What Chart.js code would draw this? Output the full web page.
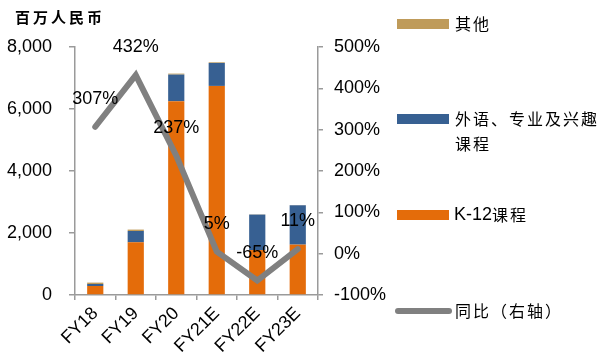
<!DOCTYPE html>
<html>
<head>
<meta charset="utf-8">
<script src="https://cdn.jsdelivr.net/npm/chart.js@4"></script>
<style>
  html, body { margin: 0; padding: 0; background: #fff; }
  #wrap { position: relative; width: 615px; height: 356px; }
</style>
</head>
<body>
<div id="wrap"><canvas id="revChart" width="615" height="356"></canvas></div>
<script>
const years = ['FY18', 'FY19', 'FY20', 'FY21E', 'FY22E', 'FY23E'];
const k12 = [290, 1700, 6250, 6745, 1450, 1625];
const interest = [65, 365, 860, 740, 1144, 1269];
const other = [45, 45, 32, 22, 8, 8];
const growth = [307, 432, 237, 5, -65, 11];
const leftTicks = [0, 2000, 4000, 6000, 8000];
const rightTicks = [-100, 0, 100, 200, 300, 400, 500];

const axisGray = '#9a9a9a';
const numFont = '"Liberation Sans", Arial, sans-serif';
const cjkFont = '"Noto Sans CJK SC", sans-serif';

// labels above line points + title + legend
const extras = {
    id: 'extras',
    afterDraw(chart) {
        const ctx = chart.ctx;
        ctx.save();
        // growth labels
        const meta = chart.getDatasetMeta(3);
        ctx.font = '18px ' + numFont;
        ctx.fillStyle = '#000';
        ctx.textAlign = 'center';
        ctx.textBaseline = 'middle';
        meta.data.forEach((pt, i) => {
            ctx.fillText(growth[i] + '%', pt.x, pt.y - 28);
        });

        // unit title
        ctx.textAlign = 'left';
        ctx.font = 'bold 15px ' + cjkFont;
        ctx.letterSpacing = '3px';
        ctx.fillText('百万人民币', 15, 17);

        // legend
        ctx.font = '16px ' + cjkFont;
        ctx.letterSpacing = '2px';
        const bx = 397, tx = 455;
        ctx.fillStyle = '#BF9B5A';
        ctx.fillRect(bx, 19, 52, 10);
        ctx.fillStyle = '#000';
        ctx.fillText('其他', tx, 24);

        ctx.fillStyle = '#376092';
        ctx.fillRect(bx, 114, 52, 10);
        ctx.fillStyle = '#000';
        ctx.fillText('外语、专业及兴趣', tx, 119);
        ctx.fillText('课程', tx, 144);

        ctx.fillStyle = '#E46C0A';
        ctx.fillRect(bx, 210, 52, 10);
        ctx.fillStyle = '#000';
        ctx.letterSpacing = '0px';
        ctx.font = '18px ' + numFont;
        ctx.fillText('K-12', tx - 1, 215);
        const kw = ctx.measureText('K-12').width;
        ctx.font = '16px ' + cjkFont;
        ctx.letterSpacing = '2px';
        ctx.fillText('课程', tx - 1 + kw, 215);

        ctx.strokeStyle = '#808080';
        ctx.lineWidth = 6;
        ctx.lineCap = 'round';
        ctx.beginPath();
        ctx.moveTo(398, 311);
        ctx.lineTo(449, 311);
        ctx.stroke();
        ctx.fillText('同比（右轴）', tx, 311);
        ctx.restore();
    }
};

new Chart(document.getElementById('revChart').getContext('2d'), {
    type: 'bar',
    data: {
        labels: years,
        datasets: [{
            label: 'K-12课程',
            data: k12,
            backgroundColor: '#E46C0A',
            order: 1
        }, {
            label: '外语、专业及兴趣课程',
            data: interest,
            backgroundColor: '#376092',
            order: 1
        }, {
            label: '其他',
            data: other,
            backgroundColor: '#BF9B5A',
            order: 1
        }, {
            type: 'line',
            label: '同比（右轴）',
            data: growth,
            yAxisID: 'y1',
            borderColor: '#808080',
            borderWidth: 6,
            borderCapStyle: 'round',
            pointRadius: 0,
            tension: 0,
            order: 0
        }]
    },
    options: {
        responsive: false,
        animation: false,
        layout: { padding: { left: 0, right: 0, top: 47, bottom: 0 } },
        categoryPercentage: 0.4,
        barPercentage: 1,
        plugins: {
            legend: { display: false },
            tooltip: { enabled: false }
        },
        scales: {
            x: {
                stacked: true,
                grid: { drawOnChartArea: false, color: axisGray, tickLength: 5, lineWidth: 1.5 },
                border: { color: axisGray, width: 1.5 },
                ticks: { color: '#000', font: { family: numFont, size: 18 }, minRotation: 45, maxRotation: 45, padding: 3 },
                afterFit(scale) { scale.height = 61; }
            },
            y: {
                stacked: true,
                min: 0,
                max: 8000,
                afterBuildTicks(scale) { scale.ticks = leftTicks.map(v => ({ value: v })); },
                grid: { drawOnChartArea: false, color: axisGray, tickLength: 6, lineWidth: 1.5 },
                border: { color: axisGray, width: 1.5 },
                ticks: {
                    color: '#000',
                    padding: 17,
                    font: { family: numFont, size: 18 },
                    callback: v => v.toLocaleString('en-US')
                },
                afterFit(scale) { scale.width = 75; }
            },
            y1: {
                position: 'right',
                min: -100,
                max: 500,
                afterBuildTicks(scale) { scale.ticks = rightTicks.map(v => ({ value: v })); },
                grid: { drawOnChartArea: false, color: axisGray, tickLength: 5, lineWidth: 1.5 },
                border: { color: axisGray, width: 1.5 },
                ticks: {
                    color: '#000',
                    padding: 11,
                    font: { family: numFont, size: 18 },
                    callback: v => v + '%'
                },
                afterFit(scale) { scale.width = 297; }
            }
        }
    },
    plugins: [extras]
});
</script>
</body>
</html>
